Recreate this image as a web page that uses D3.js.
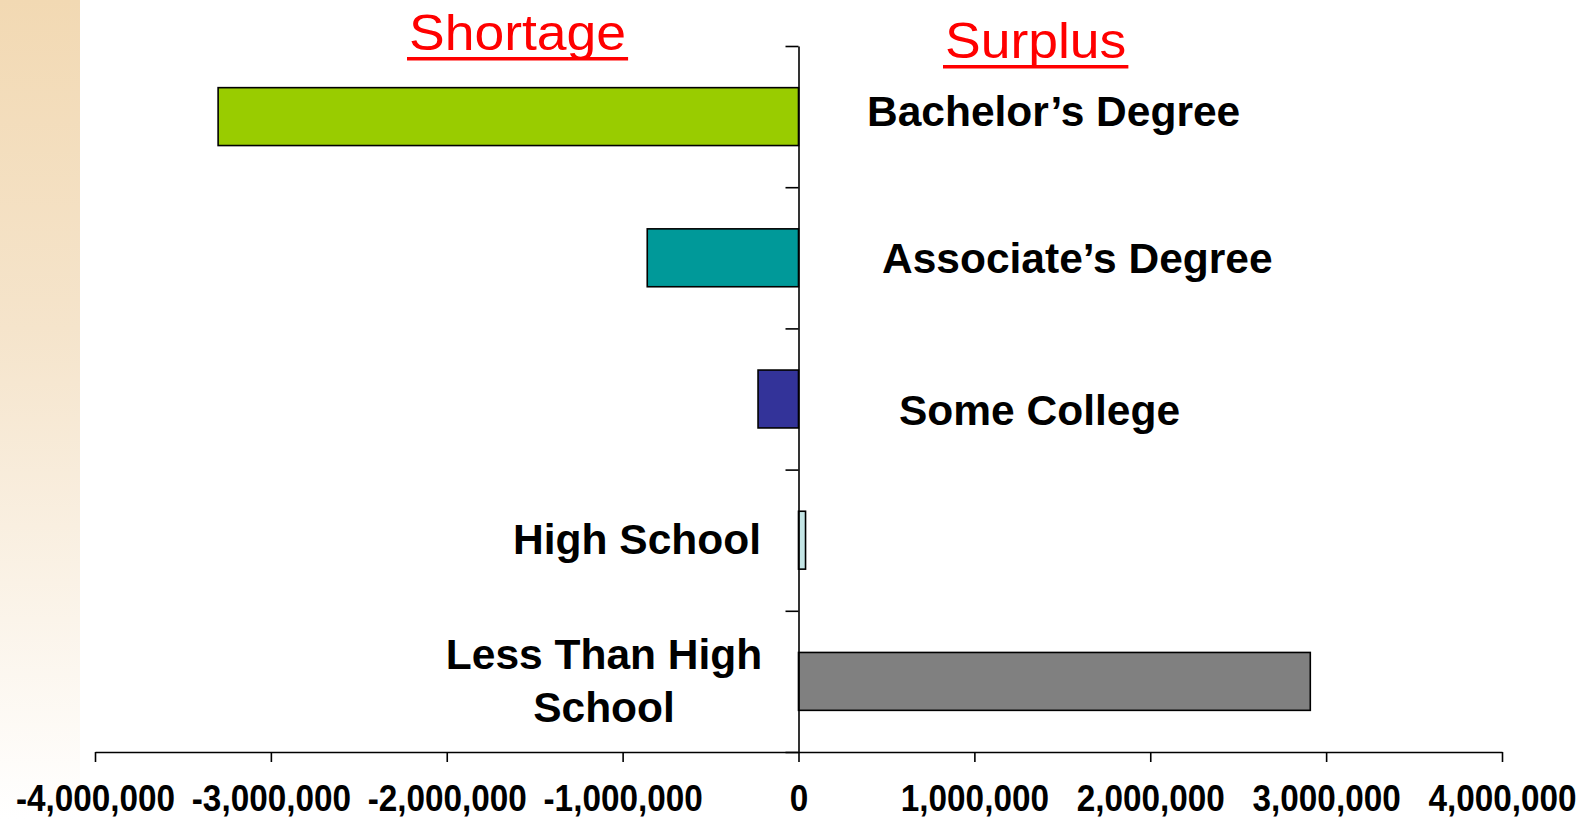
<!DOCTYPE html>
<html>
<head>
<meta charset="utf-8">
<script src="https://cdn.jsdelivr.net/npm/d3@7"></script>
<style>
  html, body { margin: 0; padding: 0; background: #fff; }
  svg { display: block; }
</style>
</head>
<body>
<div id="chart"></div>
<script>
const categories = ["Bachelor’s Degree", "Associate’s Degree", "Some College", "High School", "Less Than High School"];
const values = [-3300000, -860000, -230000, 40000, 2910000];
const colors = ["#99CC00", "#009999", "#333399", "#C4E6E6", "#808080"];
const tickValues = [-4000000, -3000000, -2000000, -1000000, 0, 1000000, 2000000, 3000000, 4000000];

const width = 1585;
const height = 819;
const margin = { top: 46, bottom: 67, left: 95, right: 83 };

const svg = d3.select('#chart')
  .append('svg')
  .attr('width', width)
  .attr('height', height);

// left decorative strip
const grad = svg.append('defs').append('linearGradient')
  .attr('id', 'strip')
  .attr('x1', 0).attr('y1', 0).attr('x2', 0).attr('y2', 1);
grad.append('stop').attr('offset', '0%').attr('stop-color', '#F2D9B3');
grad.append('stop').attr('offset', '40%').attr('stop-color', '#F5E4CB');
grad.append('stop').attr('offset', '100%').attr('stop-color', '#FFFFFF');
svg.append('rect')
  .attr('x', 0).attr('y', 0)
  .attr('width', 80).attr('height', height)
  .attr('fill', 'url(#strip)');

const x = d3.scaleLinear()
  .domain([-4000000, 4000000])
  .range([margin.left, width - margin.right]);

const y = d3.scaleBand()
  .domain(categories)
  .range([margin.top, height - margin.bottom])
  .paddingInner(0.59)
  .paddingOuter(0.295);

// edges between categories, for the category axis ticks
const yEdge = d3.scaleLinear()
  .domain([0, categories.length])
  .range([margin.top, height - margin.bottom]);

svg.append('g')
  .selectAll('rect')
  .data(values)
  .join('rect')
    .attr('x', d => x(Math.min(0, d)))
    .attr('y', (d, i) => y(categories[i]))
    .attr('width', d => Math.abs(x(d) - x(0)))
    .attr('height', y.bandwidth())
    .attr('fill', (d, i) => colors[i])
    .attr('stroke', '#000')
    .attr('stroke-width', 1.6);

const fmt = d3.format(',');

function xAxis(g) {
  g.attr('transform', `translate(0,${height - margin.bottom})`)
    .call(d3.axisBottom(x).tickValues(tickValues).tickSize(10).tickSizeOuter(0).tickPadding(23)
      .tickFormat(d => fmt(d).replace('−', '-')))
    .call(g => g.selectAll('line, path').attr('stroke', '#000').attr('stroke-width', 1.6))
    .call(g => g.selectAll('text')
      .attr('fill', '#000')
      .attr('font-family', 'Liberation Sans, Arial, sans-serif')
      .attr('font-weight', 'bold')
      .attr('font-size', '37px')
      .attr('transform', 'scale(0.9,1)'));
}

function yAxis(g) {
  g.attr('transform', `translate(${x(0)},0)`)
    .call(d3.axisLeft(yEdge).ticks(categories.length).tickSize(13).tickSizeOuter(0).tickFormat(''))
    .call(g => g.selectAll('line, path').attr('stroke', '#000').attr('stroke-width', 1.6));
}

svg.append('g').call(xAxis);
svg.append('g').call(yAxis);

// category labels
const labelLayout = [
  { x: 867, dy: 9, anchor: 'start' },
  { x: 882, dy: 15, anchor: 'start' },
  { x: 899, dy: 26, anchor: 'start' },
  { x: 761, dy: 14, anchor: 'end' },
  { x: 604, dy: -12, anchor: 'middle' }
];
const labelLines = [["Bachelor’s Degree"], ["Associate’s Degree"], ["Some College"], ["High School"], ["Less Than High", "School"]];

svg.append('g')
  .selectAll('text')
  .data(categories)
  .join('text')
    .attr('x', (d, i) => labelLayout[i].x)
    .attr('y', (d, i) => y(d) + y.bandwidth() / 2 + labelLayout[i].dy)
    .attr('text-anchor', (d, i) => labelLayout[i].anchor)
    .attr('font-family', 'Liberation Sans, Arial, sans-serif')
    .attr('font-weight', 'bold')
    .attr('font-size', '42.5px')
    .attr('fill', '#000')
    .each(function (d, i) {
      const t = d3.select(this);
      labelLines[i].forEach((line, j) => {
        t.append('tspan')
          .attr('x', labelLayout[i].x)
          .attr('dy', j === 0 ? 0 : 53)
          .text(line);
      });
    });

// Shortage / Surplus headers
const headers = [
  { text: 'Shortage', x: 409, y: 50 },
  { text: 'Surplus', x: 945, y: 58 }
];
headers.forEach(h => {
  const t = svg.append('text')
    .attr('x', 0)
    .attr('y', 0)
    .attr('transform', `translate(${h.x},${h.y}) scale(1.07,1)`)
    .attr('font-family', 'Liberation Sans, Arial, sans-serif')
    .attr('font-size', '50px')
    .attr('fill', '#FF0000')
    .text(h.text);
  const w = t.node().getComputedTextLength() * 1.07;
  svg.append('rect')
    .attr('x', h.x - 2)
    .attr('y', h.y + 7)
    .attr('width', w + 4)
    .attr('height', 3.5)
    .attr('fill', '#FF0000');
});
</script>
</body>
</html>
